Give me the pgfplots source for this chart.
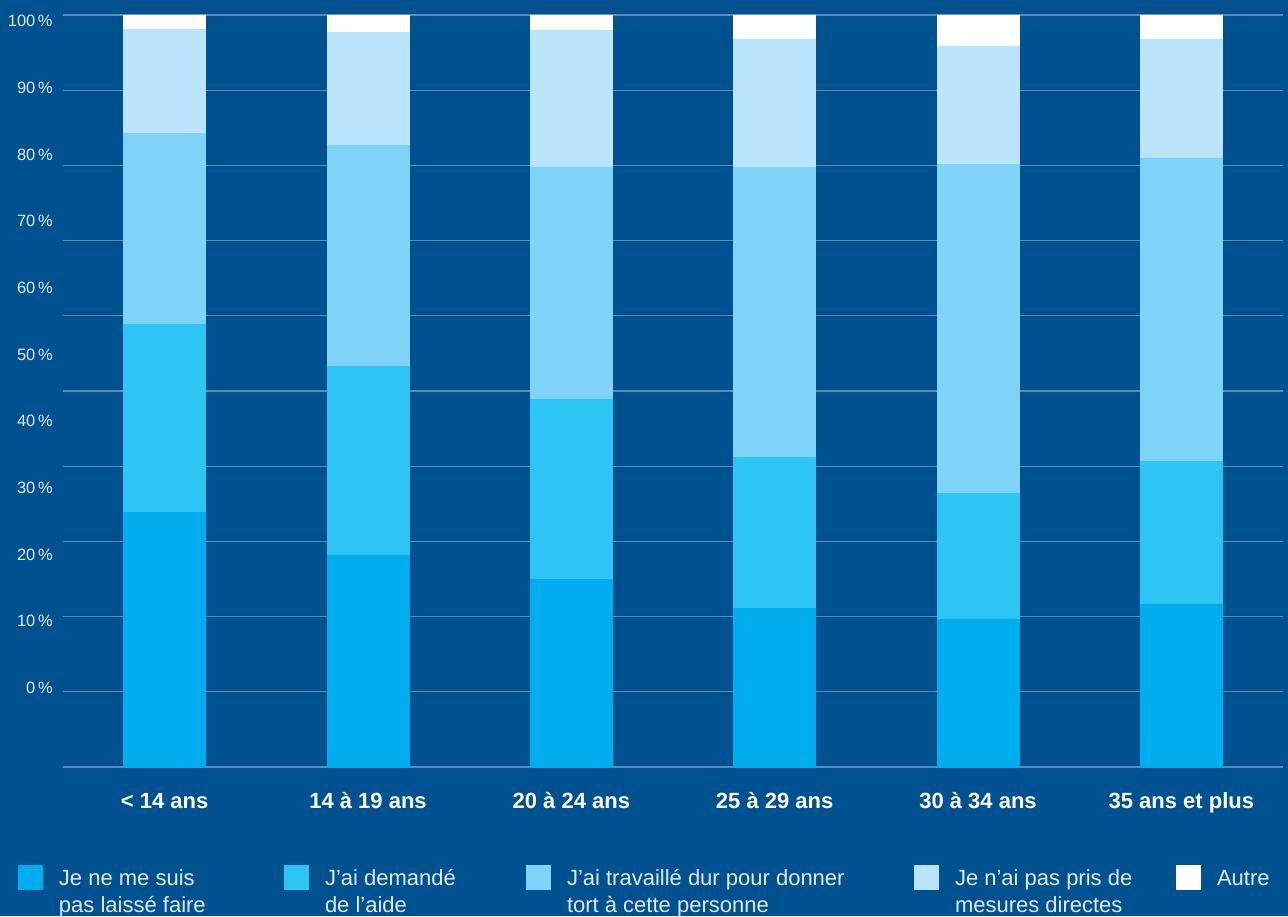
\documentclass[border=0pt]{standalone}
\usepackage{fontspec}
\setmainfont{Liberation Sans}
\usepackage{pgfplots}
\pgfplotsset{compat=1.18}
\definecolor{bg}{RGB}{0,81,143}
\definecolor{ca}{RGB}{0,174,239}
\definecolor{cb}{RGB}{45,197,244}
\definecolor{cc}{RGB}{126,211,247}
\definecolor{cd}{RGB}{185,228,249}
\definecolor{ce}{RGB}{255,255,255}
\definecolor{gridc}{RGB}{95,138,184}
\definecolor{axisc}{RGB}{200,216,232}
\definecolor{tickc}{RGB}{225,233,243}
\begin{document}
\begin{tikzpicture}
\fill[bg] (-31.5pt,-74.5pt) rectangle (612.5pt,383.5pt);
\begin{axis}[
  at={(0,0)}, anchor=south west,
  width=610pt, height=376pt, scale only axis,
  xmin=-0.5, xmax=5.5, ymin=0, ymax=100,
  ybar stacked, bar width=41pt,
  axis x line*=bottom, axis y line*=left,
  y axis line style={draw=none},
  x axis line style={draw=axisc, line width=0.6pt, -},
  major tick length=0pt,
  xtick={0,1,2,3,4,5},
  xticklabels={{< 14 ans},{14 à 19 ans},{20 à 24 ans},{25 à 29 ans},{30 à 34 ans},{35 ans et plus}},
  xticklabel style={anchor=base, inner sep=0pt, yshift=-20.5pt, text=white, font=\bfseries\fontsize{11}{13}\selectfont},
  ytick={10.5,19.37,28.24,37.11,45.98,54.85,63.72,72.59,81.46,90.33,99.2},
  yticklabels={0\,\%,10\,\%,20\,\%,30\,\%,40\,\%,50\,\%,60\,\%,70\,\%,80\,\%,90\,\%,100\,\%},
  yticklabel style={anchor=east, inner sep=0pt, xshift=-5pt, text=tickc, font=\fontsize{8.2}{10}\selectfont},
  extra y ticks={0,10,20,30,40,50,60,70,80,90,100},
  extra y tick labels={,,,,,,,,,,},
  extra y tick style={grid=major, major grid style={draw=gridc, line width=0.6pt}},
  legend columns=5,
  legend style={at={(0,0)}, anchor=north west, xshift=-22.5pt, yshift=-49pt,
    draw=none, fill=none, inner sep=0pt, outer sep=0pt,
    cells={anchor=base west}, nodes={inner sep=0pt},
    /tikz/every odd column/.style={column sep=8pt},
    /tikz/every even column/.style={column sep=0pt},
    text=tickc, font=\fontsize{11}{13.5}\selectfont},
  legend image code/.code={\fill[#1, draw=none] (0pt,-2.5pt) rectangle (12.5pt,10pt);},
]
\addplot[fill=ca, draw=ca, line width=0.3pt] coordinates {(0,33.9) (1,28.2) (2,24.9) (3,21.1) (4,19.7) (5,21.7)};
\addplot[fill=cb, draw=cb, line width=0.3pt] coordinates {(0,25.0) (1,25.1) (2,24.0) (3,20.1) (4,16.7) (5,18.9)};
\addplot[fill=cc, draw=cc, line width=0.3pt] coordinates {(0,25.4) (1,29.4) (2,30.9) (3,38.5) (4,43.7) (5,40.4)};
\addplot[fill=cd, draw=cd, line width=0.3pt] coordinates {(0,13.8) (1,15.0) (2,18.1) (3,17.1) (4,15.8) (5,15.8)};
\addplot[fill=ce, draw=ce, line width=0.3pt] coordinates {(0,1.9) (1,2.3) (2,2.1) (3,3.2) (4,4.1) (5,3.2)};
\legend{\parbox[t]{112.5pt}{Je ne me suis\\pas laissé faire},
  \parbox[t]{100.5pt}{J’ai demandé\\de l’aide},
  \parbox[t]{173.5pt}{J’ai travaillé dur pour donner\\tort à cette personne},
  \parbox[t]{110.5pt}{Je n’ai pas pris de\\mesures directes},
  \parbox[t]{40pt}{Autre}}
\end{axis}
\pgfresetboundingbox
\path (-31.5pt,-74.5pt) rectangle (612.5pt,383.5pt);
\end{tikzpicture}
\end{document}
